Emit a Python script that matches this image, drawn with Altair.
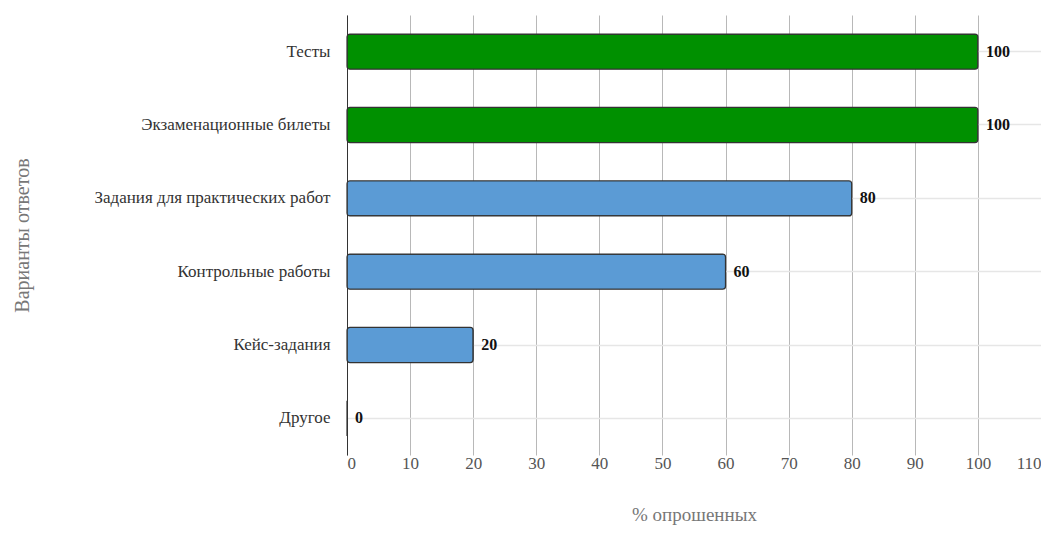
import altair as alt
import pandas as pd

categories = ["Тесты", "Экзаменационные билеты", "Задания для практических работ",
              "Контрольные работы", "Кейс-задания", "Другое"]
values = [100, 100, 80, 60, 20, 0]
groups = ["top", "top", "other", "other", "other", "other"]
x_ticks = [0, 10, 20, 30, 40, 50, 60, 70, 80, 90, 100, 110]

df = pd.DataFrame({"cat": categories, "val": values, "grp": groups})

FONT = "Liberation Serif"

y_enc = alt.Y("cat:N", sort=categories, title="Варианты ответов",
              scale=alt.Scale(paddingInner=0.52, paddingOuter=0.26),
              axis=alt.Axis(grid=True, gridColor="#e6e6e6", gridWidth=1.5,
                            ticks=False, domain=True, domainColor="#333333",
                            labelFont=FONT, labelFontSize=17, labelColor="#333333",
                            labelPadding=17, titleFont=FONT, titleFontSize=20,
                            titleColor="#777777", titleFontWeight="normal",
                            titleX=-325, titleY=220, titleAngle=270,
                            titleAlign="center", titleBaseline="middle",
                            labelLimit=400))

x_enc = alt.X("val:Q", title="% опрошенных",
              scale=alt.Scale(domain=[0, 110], nice=False),
              axis=alt.Axis(values=x_ticks, grid=True, gridColor="#b8b8b8",
                            ticks=False, domain=False, labelFlush=True,
                            labelFont=FONT, labelFontSize=17, labelColor="#555555",
                            labelPadding=0, titleFont=FONT, titleFontSize=19,
                            titleColor="#777777", titleFontWeight="normal",
                            titlePadding=34))

bars = alt.Chart(df).mark_bar(stroke="#333333", strokeWidth=1.2, cornerRadius=3).encode(
    x=x_enc,
    y=y_enc,
    color=alt.Color("grp:N", scale=alt.Scale(domain=["top", "other"],
                                             range=["#009000", "#5b9bd5"]), legend=None),
)

text = alt.Chart(df).mark_text(align="left", dx=8, font=FONT, fontSize=16,
                               fontWeight="bold", color="#111111").encode(
    x=alt.X("val:Q"),
    y=alt.Y("cat:N", sort=categories),
    text=alt.Text("val:Q"),
)

chart = alt.layer(bars, text).properties(
    width=694, height=440,
    autosize=alt.AutoSizeParams(type="none"),
    padding={"left": 339, "top": 7, "right": 0, "bottom": 72},
).configure_view(stroke=None)

chart.save("out.html", embed_options={"renderer": "svg", "actions": False})
